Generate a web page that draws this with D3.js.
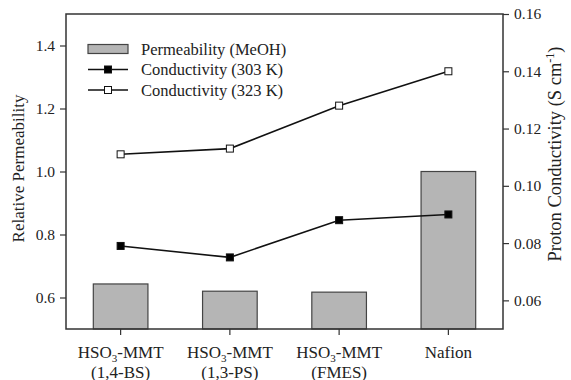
<!DOCTYPE html>
<html>
<head>
<meta charset="utf-8">
<script src="https://cdn.jsdelivr.net/npm/d3@7"></script>
<style>
  body { margin: 0; background: #fff; }
  text { font-family: "Liberation Serif", "Times New Roman", serif; fill: #222; }
</style>
</head>
<body>
<div id="chart"></div>
<script>
const categories = ["HSO3-MMT|(1,4-BS)", "HSO3-MMT|(1,3-PS)", "HSO3-MMT|(FMES)", "Nafion"];
const permeability = [0.643, 0.620, 0.617, 1.0];
const cond303 = [0.079, 0.075, 0.088, 0.090];
const cond323 = [0.111, 0.113, 0.128, 0.140];
const leftTicks = [0.6, 0.8, 1.0, 1.2, 1.4];
const rightTicks = [0.06, 0.08, 0.10, 0.12, 0.14, 0.16];

const width = 571, height = 380;
const margin = { top: 14, right: 68, bottom: 51, left: 66 };
const innerWidth = width - margin.left - margin.right;
const innerHeight = height - margin.top - margin.bottom;
const axisColor = "#333";

const svg = d3.select("#chart").append("svg").attr("width", width).attr("height", height);
const g = svg.append("g").attr("transform", `translate(${margin.left}, ${margin.top})`);

const x = d3.scaleBand().domain(categories).range([0, innerWidth]).paddingInner(0.5).paddingOuter(0.25);
const yL = d3.scaleLinear().domain([0.5, 1.5]).range([innerHeight, 0]);
const yR = d3.scaleLinear().domain([0.05, 0.16]).range([innerHeight, 0]);

// bars
g.selectAll("rect.bar")
  .data(permeability)
  .join("rect")
  .attr("class", "bar")
  .attr("x", (d, i) => x(categories[i]))
  .attr("y", (d) => yL(d))
  .attr("width", x.bandwidth())
  .attr("height", (d) => innerHeight - yL(d))
  .attr("fill", "#b5b5b5")
  .attr("stroke", "#444")
  .attr("stroke-width", 1.2);

// frame
g.append("rect")
  .attr("width", innerWidth)
  .attr("height", innerHeight)
  .attr("fill", "none")
  .attr("stroke", axisColor)
  .attr("stroke-width", 1.5);

function styleAxis(sel) {
  sel.select(".domain").remove();
  sel.selectAll(".tick line").attr("stroke", axisColor).attr("stroke-width", 1.2);
  sel.selectAll(".tick text").attr("font-size", 15.5).attr("fill", "#222");
}

g.append("g")
  .call(d3.axisLeft(yL).tickValues(leftTicks).tickFormat(d3.format(".1f")).tickSize(6).tickPadding(5))
  .call(styleAxis);

g.append("g")
  .attr("transform", `translate(${innerWidth},0)`)
  .call(d3.axisRight(yR).tickValues(rightTicks).tickFormat(d3.format(".2f")).tickSize(6).tickPadding(5))
  .call(styleAxis);

const xAxis = g.append("g")
  .attr("transform", `translate(0,${innerHeight})`)
  .call(d3.axisBottom(x).tickSize(6).tickFormat(""))
  .call(styleAxis);

// multi-line category labels with subscript
xAxis.selectAll(".tick").each(function (d) {
  const t = d3.select(this);
  const lines = d.split("|");
  lines.forEach((line, j) => {
    const txt = t.append("text")
      .attr("y", 29 + j * 20)
      .attr("text-anchor", "middle")
      .attr("font-size", 17)
      .attr("fill", "#222");
    const m = line.match(/^HSO3(.*)$/);
    if (m) {
      txt.append("tspan").text("HSO");
      txt.append("tspan").attr("font-size", 11).attr("dy", 4).text("3");
      txt.append("tspan").attr("dy", -4).text(m[1]);
    } else {
      txt.text(line);
    }
  });
});

// conductivity lines
const cx = (i) => x(categories[i]) + x.bandwidth() / 2;
const line = d3.line().x((d, i) => cx(i)).y((d) => yR(d));

[[cond303, "#000"], [cond323, "#fff"]].forEach(([vals, fill]) => {
  g.append("path")
    .datum(vals)
    .attr("d", line)
    .attr("fill", "none")
    .attr("stroke", "#111")
    .attr("stroke-width", 1.6);
  g.selectAll(null)
    .data(vals)
    .join("rect")
    .attr("x", (d, i) => cx(i) - 3.5)
    .attr("y", (d) => yR(d) - 3.5)
    .attr("width", 7)
    .attr("height", 7)
    .attr("fill", fill)
    .attr("stroke", "#111")
    .attr("stroke-width", 1);
});

// axis titles
svg.append("text")
  .attr("transform", `translate(24, ${margin.top + innerHeight / 2 - 3}) rotate(-90)`)
  .attr("text-anchor", "middle")
  .attr("font-size", 17)
  .text("Relative Permeability");

const rt = svg.append("text")
  .attr("transform", `translate(561, ${margin.top + 140}) rotate(-90)`)
  .attr("text-anchor", "middle")
  .attr("font-size", 18.5);
rt.append("tspan").text("Proton Conductivity (S cm");
rt.append("tspan").attr("font-size", 12).attr("dy", -7).text("-1");
rt.append("tspan").attr("dy", 7).text(")");

// legend
const legend = g.append("g").attr("transform", "translate(22, 35)");
const legendItems = [
  { label: "Permeability (MeOH)", type: "bar" },
  { label: "Conductivity (303 K)", type: "line", fill: "#000" },
  { label: "Conductivity (323 K)", type: "line", fill: "#fff" }
];
legendItems.forEach((item, i) => {
  const row = legend.append("g").attr("transform", `translate(0, ${i * 20.5})`);
  if (item.type === "bar") {
    row.append("rect").attr("x", 0).attr("y", -4.5).attr("width", 40).attr("height", 9)
      .attr("fill", "#b5b5b5").attr("stroke", "#444").attr("stroke-width", 1.2);
  } else {
    row.append("line").attr("x1", 0).attr("x2", 40).attr("y1", 0).attr("y2", 0)
      .attr("stroke", "#111").attr("stroke-width", 1.6);
    row.append("rect").attr("x", 16.5).attr("y", -3.5).attr("width", 7).attr("height", 7)
      .attr("fill", item.fill).attr("stroke", "#111").attr("stroke-width", 1);
  }
  row.append("text").attr("x", 53).attr("y", 0).attr("dy", "0.35em").attr("font-size", 16.5).text(item.label);
});
</script>
</body>
</html>
